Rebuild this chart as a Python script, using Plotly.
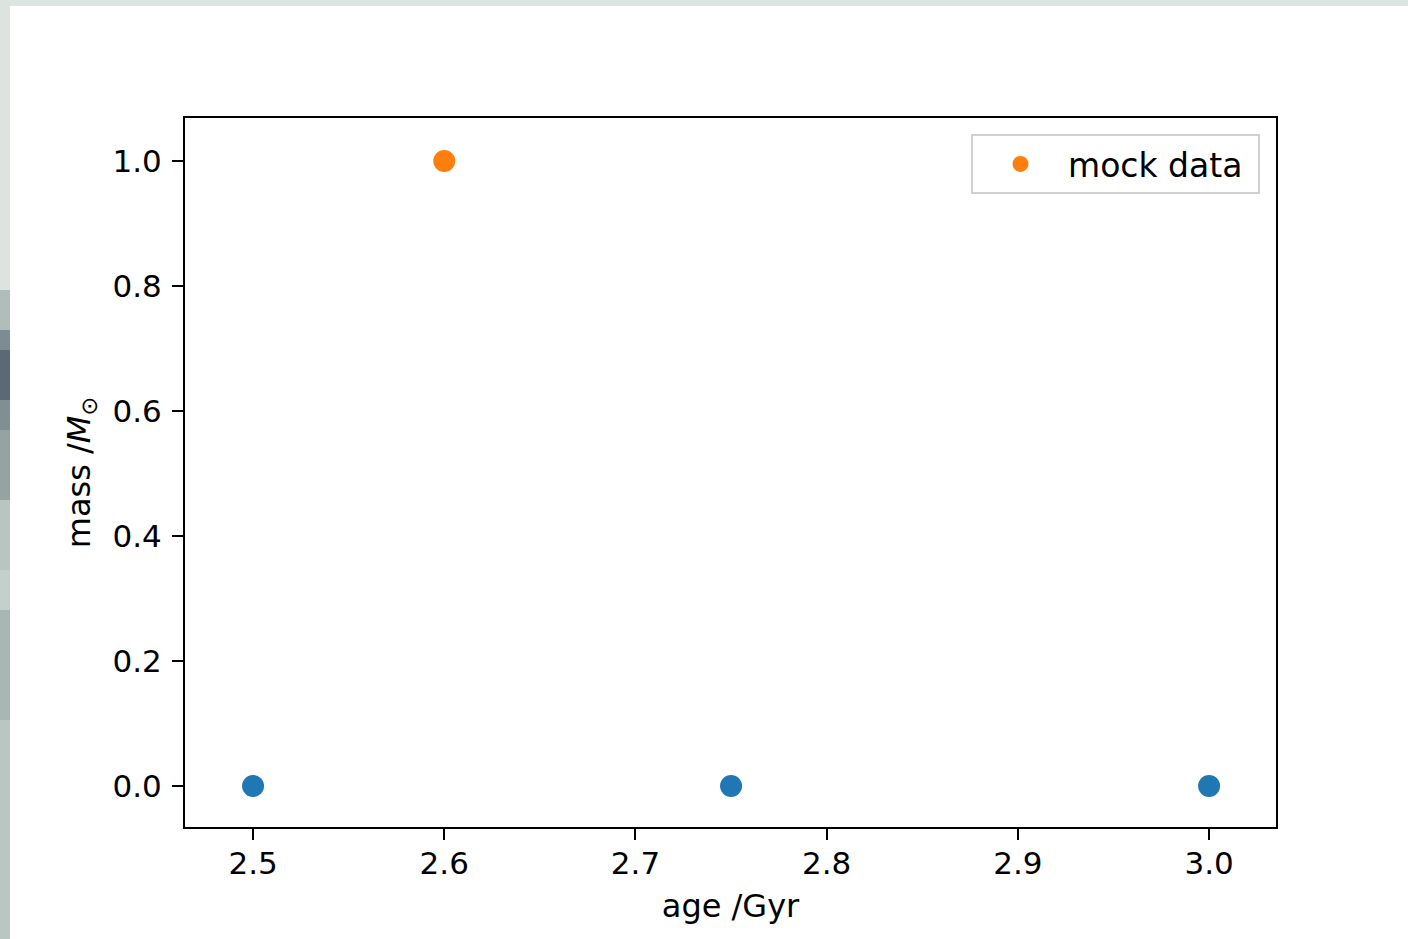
import plotly.graph_objects as go

# data
model_age = [2.5, 2.75, 3.0]
model_mass = [0.0, 0.0, 0.0]
mock_age = [2.6]
mock_mass = [1.0]
mock_label = "mock data\u00a0"
x_title = "age /Gyr"
y_title = "mass /<i>M</i><sub>⊙</sub>"

W, H = 1408, 939
L, R, T, B = 185, 1276, 118, 827
pw, ph = R - L, B - T

def px(x):
    return (x - L) / pw

def py(y):
    return (B - y) / ph

font = dict(family="DejaVu Sans", size=32, color="black")
tfont = dict(family="DejaVu Sans", size=31, color="black")
lfont = dict(family="DejaVu Sans", size=33, color="black")

fig = go.Figure()
fig.add_trace(go.Scatter(x=model_age, y=model_mass, mode="markers",
                         marker=dict(color="#1f77b4", size=22), showlegend=False))
fig.add_trace(go.Scatter(x=mock_age, y=mock_mass, mode="markers", name=mock_label,
                         marker=dict(color="#ff7f0e", size=22)))

shapes = []
# window frame strips
shapes.append(dict(type="rect", xref="paper", yref="paper", x0=px(0), x1=px(W), y0=py(6), y1=py(0),
                   fillcolor="#dde5e0", line_width=0, layer="below"))
segments = [(0, 290, "#dde4e0"), (290, 330, "#b0bdba"), (330, 350, "#7d8c92"), (350, 400, "#5a6a74"),
            (400, 430, "#7f8f92"), (430, 500, "#95a4a2"), (500, 570, "#b8c5c0"), (570, 610, "#c4d0cb"),
            (610, 720, "#a9b7b4"), (720, 939, "#b9c6c1")]
for y0, y1, c in segments:
    shapes.append(dict(type="rect", xref="paper", yref="paper", x0=px(0), x1=px(10), y0=py(y1), y1=py(y0),
                       fillcolor=c, line_width=0, layer="below"))
fig.update_layout(shapes=shapes)

axis_common = dict(showline=True, linecolor="black", linewidth=2, mirror=True, ticks="outside",
                   ticklen=11, tickwidth=2, tickcolor="black", showgrid=False, zeroline=False,
                   tickfont=tfont, tickformat=".1f")
fig.update_xaxes(range=[2.4644, 3.035], dtick=0.1, tick0=2.5, ticklabelstandoff=-3,
                 title=dict(text=x_title, font=font, standoff=14), **axis_common)
fig.update_yaxes(range=[-0.0656, 1.0688], dtick=0.2, tick0=0, ticklabelstandoff=4,
                 title=dict(text=y_title, font=font, standoff=12), **axis_common)

fig.update_layout(
    width=W, height=H,
    margin=dict(l=L, r=W - R, t=T, b=H - B, pad=0),
    paper_bgcolor="white", plot_bgcolor="white",
    font=font,
    legend=dict(x=px(1260), y=py(134), xanchor="right", yanchor="top",
                bgcolor="white", bordercolor="#d0d0d0", borderwidth=2,
                font=lfont, itemsizing="trace", itemwidth=85),
)
fig.write_html("out.html")
